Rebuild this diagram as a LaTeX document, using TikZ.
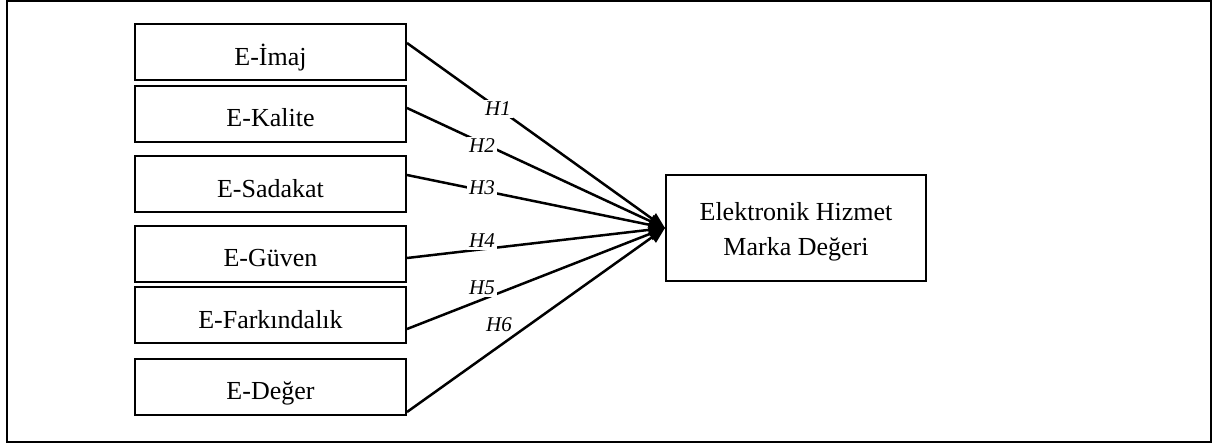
\documentclass[tikz,border=0pt]{standalone}
\usepackage{fontspec}
\setmainfont{Liberation Serif}
\usetikzlibrary{arrows.meta}
\begin{document}
\begin{tikzpicture}[x=1pt,y=-1pt,
  factor/.style={draw=black, line width=2pt, minimum width=271pt, minimum height=56pt, inner sep=0pt,
    font=\fontsize{26}{30}\selectfont, text height=26pt, text depth=0pt},
  target/.style={draw=black, line width=2pt, minimum width=260pt, minimum height=106pt, inner sep=0pt},
  ttext/.style={font=\fontsize{26}{35}\selectfont, align=center, inner sep=0pt},
  hlab/.style={fill=white, inner sep=2pt, font=\fontsize{21}{23}\selectfont\itshape},
  link/.style={line width=2.5pt, -{Triangle[length=16pt,width=13pt]}},
  frame/.style={draw=black, line width=2.2pt}]
\useasboundingbox (0,0) rectangle (1213,445);
\draw[frame] (7,1) rectangle (1211,442);
\node[factor] (b1) at (270.5,52) {E-İmaj};
\node[factor] (b2) at (270.5,113.5) {E-Kalite};
\node[factor] (b3) at (270.5,184) {E-Sadakat};
\node[factor] (b4) at (270.5,253.5) {E-Güven};
\node[factor] (b5) at (270.5,315) {E-Farkındalık};
\node[factor] (b6) at (270.5,386.5) {E-Değer};
\node[target] (t) at (796,228) {};
\node[ttext] (tt) at ([yshift=-4pt]t.center) {Elektronik Hizmet\\Marka Değeri};
\draw[link] ([yshift=9pt]b1.east) -- (t.west);
\draw[link] ([yshift=5.5pt]b2.east) -- (t.west);
\draw[link] ([yshift=9pt]b3.east) -- (t.west);
\draw[link] ([yshift=-4.5pt]b4.east) -- (t.west);
\draw[link] ([yshift=-14pt]b5.east) -- (t.west);
\draw[link] ([yshift=-25.5pt]b6.east) -- (t.west);
\node[hlab] (h1) at (498,109) {H1};
\node[hlab] (h2) at (482,146) {H2};
\node[hlab] (h3) at (482,188) {H3};
\node[hlab] (h4) at (482,241) {H4};
\node[hlab] (h5) at (482,288) {H5};
\node[hlab] (h6) at (499,325) {H6};
\end{tikzpicture}
\end{document}
